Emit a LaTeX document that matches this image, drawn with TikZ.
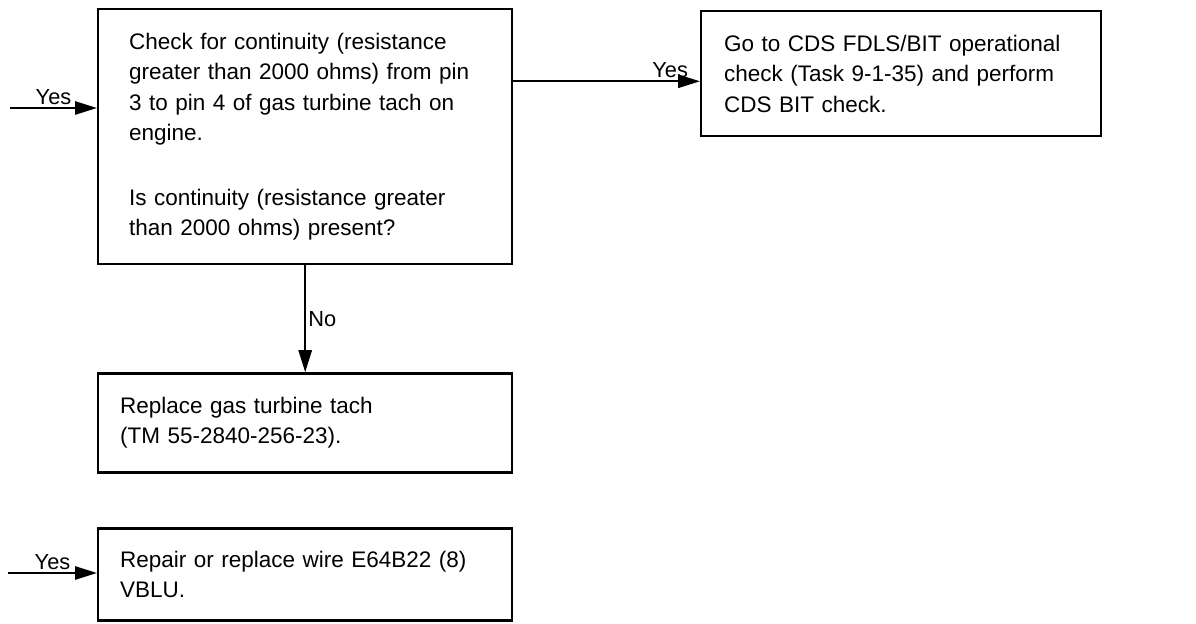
\documentclass[tikz,border=0pt]{standalone}
\usepackage{fontspec}
\setmainfont{Liberation Sans}
\usetikzlibrary{positioning,arrows.meta}
\tikzset{
  bloc/.style     = {draw, line width=1.7pt, align=left, inner ysep=0pt,
                     anchor=north west, font=\fontsize{16}{21.6}\selectfont},
  eticheta/.style = {font=\fontsize{15.5}{18}\selectfont, inner sep=1.5pt},
  sageata/.style  = {-{Triangle[length=5.5mm, width=3.3mm]}, line width=1.5pt}
}

\begin{document}
\begin{tikzpicture}
  \useasboundingbox (0,0) rectangle (29.9,-15.6);

  \node[bloc, minimum width=10.35cm, minimum height=6.375cm, text width=8.8cm, inner xsep=0.775cm] (chk) at (2.425,-0.2)
    {Check for continuity (resistance\\ greater than 2000 ohms) from pin\\ 3 to pin 4 of gas turbine tach on\\ engine.\\[0.85cm] Is continuity (resistance greater\\ than 2000 ohms) present?};
  \node[bloc, minimum width=10cm, minimum height=3.125cm, text width=8.85cm, inner xsep=0.575cm] (go) at (17.5,-0.25)
    {Go to CDS FDLS/BIT operational\\ check (Task 9-1-35) and perform\\ CDS BIT check.};
  \node[bloc, below=2.67cm of chk.south west, anchor=north west, minimum width=10.35cm, minimum height=2.475cm, text width=9.25cm, inner xsep=0.55cm] (rep)
    {Replace gas turbine tach\\ (TM 55-2840-256-23).};
  \node[bloc, below=1.34cm of rep.south west, anchor=north west, minimum width=10.35cm, minimum height=2.3cm, text width=9.25cm, inner xsep=0.55cm] (wire)
    {Repair or replace wire E64B22 (8)\\ VBLU.};

  \coordinate (a1) at (0.25,-2.7);
  \coordinate (a2) at ([yshift=-0.19cm]go.west);
  \coordinate (a3) at (0.2,-14.325);

  \draw[sageata] (a1) -- (a1 -| chk.west) node[eticheta, midway, above] {Yes};
  \draw[sageata] (chk.east |- a2) -- (a2) node[eticheta, pos=0.84, above] {Yes};
  \draw[sageata] (chk.south) -- (rep.north) node[eticheta, midway, right] {No};
  \draw[sageata] (a3) -- (a3 -| wire.west) node[eticheta, midway, above] {Yes};
\end{tikzpicture}
\end{document}
